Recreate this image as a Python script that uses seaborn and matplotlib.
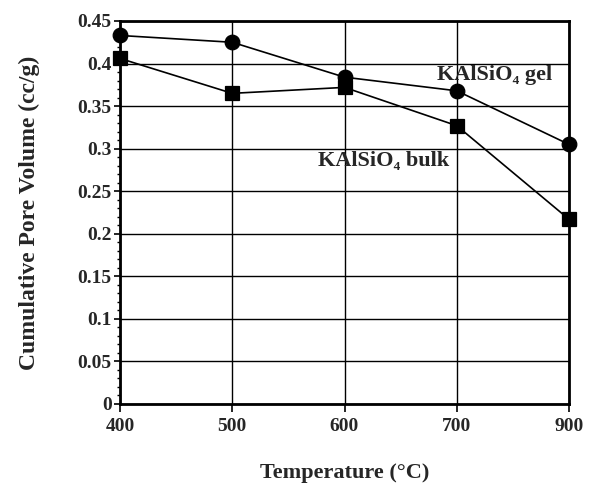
import matplotlib
matplotlib.use("Agg")
import matplotlib.pyplot as plt
from matplotlib.ticker import FixedLocator, MultipleLocator
import seaborn as sns
import pandas as pd

# ---- data ----
temperatures = ["400", "500", "600", "700", "900"]
gel_volume = [0.433, 0.425, 0.384, 0.368, 0.305]
bulk_volume = [0.406, 0.365, 0.372, 0.327, 0.217]
series_names = ["KAlSiO\u2084 gel", "KAlSiO\u2084 bulk"]
y_tick_values = [0, 0.05, 0.1, 0.15, 0.2, 0.25, 0.3, 0.35, 0.4, 0.45]
y_tick_labels = ["0", "0.05", "0.1", "0.15", "0.2", "0.25", "0.3", "0.35", "0.4", "0.45"]
x_label = "Temperature (\u00b0C)"
y_label = "Cumulative Pore Volume (cc/g)"

sns.set_theme(style="white")
plt.rcParams["font.family"] = ["Liberation Serif", "DejaVu Serif"]
plt.rcParams["font.weight"] = "bold"
plt.rcParams["axes.labelweight"] = "bold"

df = pd.DataFrame({
    "Temperature": temperatures * 2,
    "Volume": gel_volume + bulk_volume,
    "Material": [series_names[0]] * len(temperatures) + [series_names[1]] * len(temperatures),
})

W, H = 589, 487
fig = plt.figure(figsize=(W / 100, H / 100), dpi=100)
left, right, top, bottom = 120, 569, 21, 404
ax = fig.add_axes([left / W, 1 - bottom / H, (right - left) / W, (bottom - top) / H])

sns.pointplot(
    data=df, x="Temperature", y="Volume", hue="Material",
    order=temperatures, hue_order=series_names,
    palette=["black", "black"], markers=["o", "s"], linestyles=["-", "-"],
    errorbar=None, legend=False, ax=ax,
    markersize=10.5, linewidth=1.2, clip_on=False, zorder=5,
)

ax.set_xlim(0, len(temperatures) - 1)
ax.set_ylim(0, 0.45)
ax.yaxis.set_major_locator(FixedLocator(y_tick_values))
ax.set_yticklabels(y_tick_labels)
ax.yaxis.set_minor_locator(MultipleLocator(0.01))

ax.grid(True, which="major", color="black", linewidth=1.0)
ax.set_axisbelow(True)
for sp in ax.spines.values():
    sp.set_visible(True)
    sp.set_color("black")
    sp.set_linewidth(2.0)

ax.tick_params(axis="both", which="both", left=True, bottom=True, direction="out", color="black")
ax.tick_params(axis="y", which="major", length=4, width=1.2, pad=2, labelsize=14)
ax.tick_params(axis="y", which="minor", length=2.5, width=1.0)
ax.tick_params(axis="x", which="major", length=6, width=1.2, pad=4, labelsize=14)
for lbl in ax.get_xticklabels() + ax.get_yticklabels():
    lbl.set_fontweight("bold")

ax.set_xlabel(x_label, fontsize=16, fontweight="bold", labelpad=20)
ax.set_ylabel(y_label, fontsize=17, fontweight="bold", labelpad=27)

ax.text(2.82, 0.386, series_names[0], ha="left", va="center", fontsize=16, fontweight="bold")
ax.text(1.76, 0.286, series_names[1], ha="left", va="center", fontsize=16, fontweight="bold")

fig.savefig("out.png", dpi=100, facecolor="white")
